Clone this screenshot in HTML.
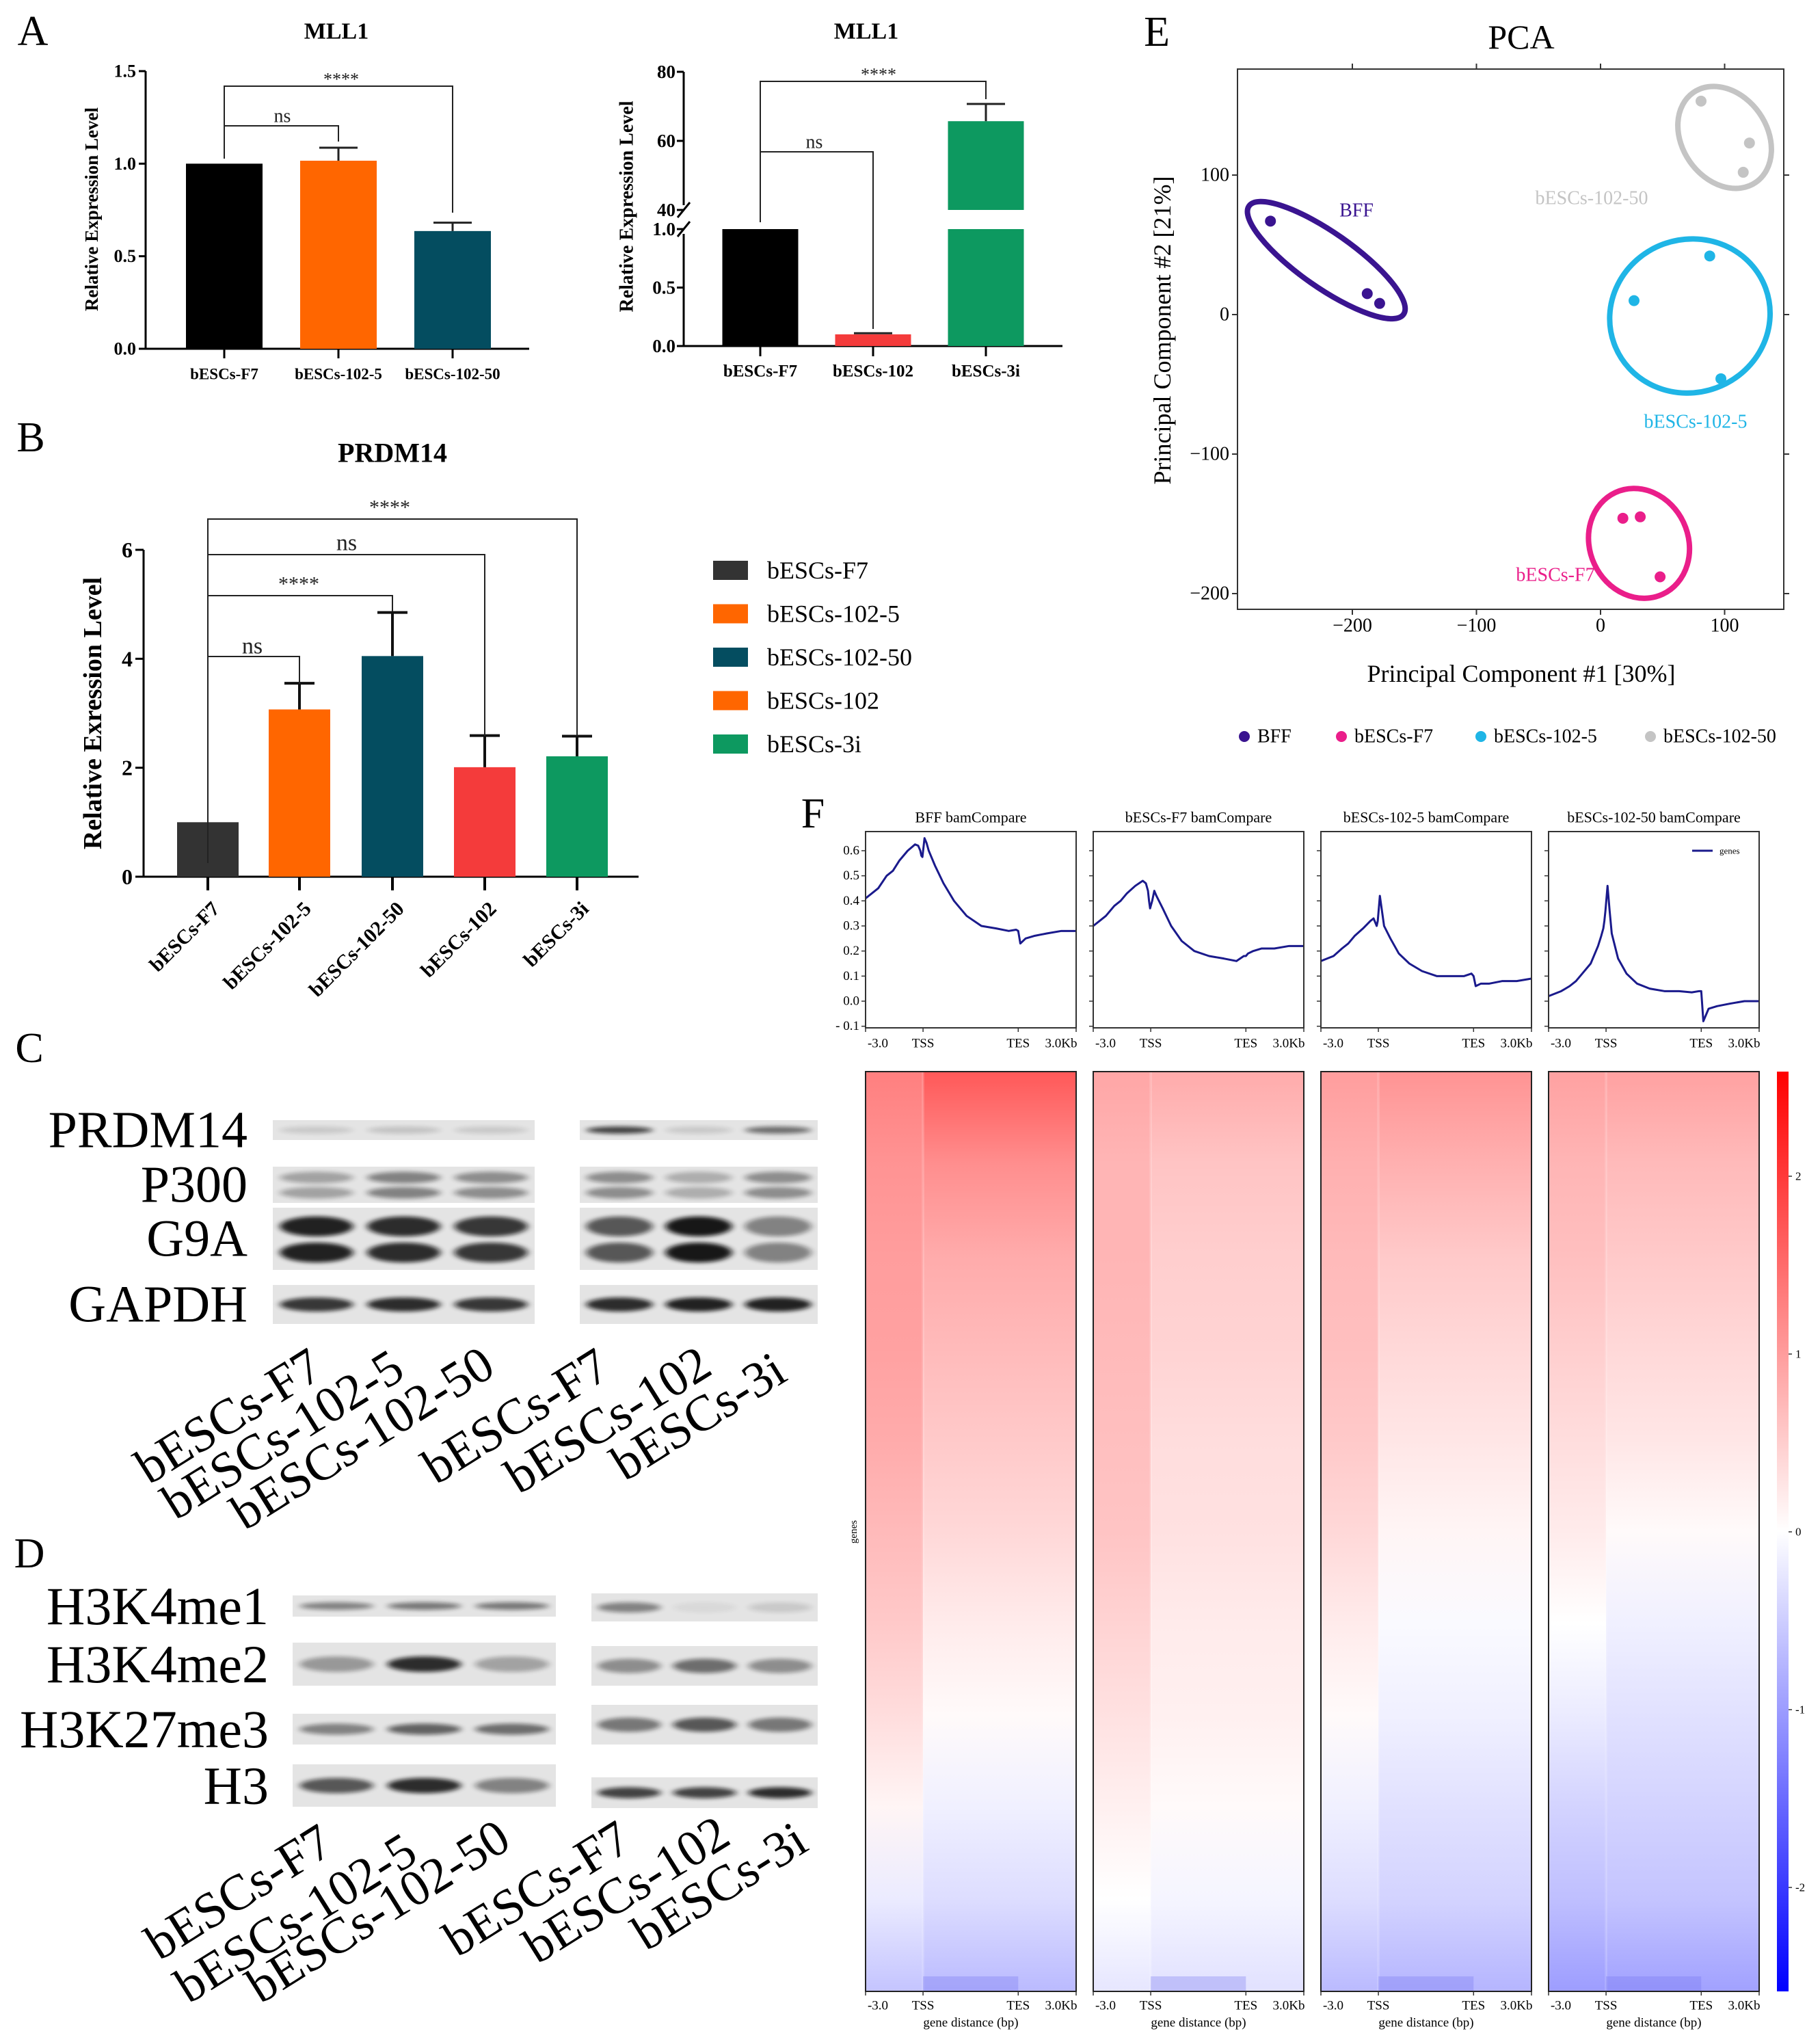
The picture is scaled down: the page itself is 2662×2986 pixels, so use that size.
<!DOCTYPE html>
<html><head><meta charset="utf-8"><style>
html,body{margin:0;padding:0;background:#fff;}
svg{display:block;font-family:"Liberation Serif",serif;}
</style></head><body>
<svg id="fig" xmlns="http://www.w3.org/2000/svg" width="2662" height="2986" viewBox="0 0 2662 2986">
<defs>
<filter id="blur" x="-20%" y="-100%" width="140%" height="300%"><feGaussianBlur stdDeviation="5 3"/></filter>
</defs>
<g id="root"></g>
</svg>
<script>
// ---------- DATA ----------
const a1Cats = ["bESCs-F7","bESCs-102-5","bESCs-102-50"];
const a1Vals = [1.0, 1.016, 0.636];
const a1Errs = [0, 0.07, 0.045];
const a1Ticks = [0, 0.5, 1.0, 1.5];
const a1TickLabels = ["0.0","0.5","1.0","1.5"];

const a2Cats = ["bESCs-F7","bESCs-102","bESCs-3i"];
const a2Vals = [1.0, 0.10, 65.7];
const a2Errs = [0, 0.01, 5.0];
const a2LowTicks = [0, 0.5, 1.0];
const a2LowLabels = ["0.0","0.5","1.0"];
const a2HighTicks = [40, 60, 80];
const a2HighLabels = ["40","60","80"];

const bCats = ["bESCs-F7","bESCs-102-5","bESCs-102-50","bESCs-102","bESCs-3i"];
const bVals = [1.0, 3.07, 4.05, 2.01, 2.21];
const bErrs = [0, 0.48, 0.8, 0.58, 0.37];
const bTicks = [0, 2, 4, 6];

const pcaGroups = ["BFF","bESCs-F7","bESCs-102-5","bESCs-102-50"];
const pcaX = [[-266,-188,-178],[18,32,48],[27,88,97],[81,120,115]];
const pcaY = [[67,15,8],[-146,-145,-188],[10,42,-46],[153,123,102]];
const pcaCx = [-221, 31, 72, 100];
const pcaCy = [39, -164, -1, 127];
const pcaXTicks = [-200,-100,0,100];
const pcaYTicks = [100,0,-100,-200];

const profTitles = ["BFF bamCompare","bESCs-F7 bamCompare","bESCs-102-5 bamCompare","bESCs-102-50 bamCompare"];
const profPos = [0,.03,.06,.1,.13,.16,.2,.235,.25,.26,.265,.27,.28,.29,.3,.33,.37,.42,.48,.55,.62,.68,.715,.725,.735,.76,.8,.86,.93,1];
const profVals = [
 [.41,.43,.45,.50,.52,.56,.60,.625,.62,.60,.58,.575,.65,.63,.60,.54,.47,.40,.34,.30,.29,.28,.285,.28,.23,.25,.26,.27,.28,.28],
 [.30,.32,.34,.38,.40,.43,.46,.48,.47,.44,.40,.37,.40,.44,.42,.37,.30,.24,.20,.18,.17,.16,.18,.18,.19,.20,.21,.21,.22,.22],
 [.16,.17,.18,.21,.23,.26,.29,.32,.33,.31,.30,.32,.42,.36,.30,.25,.19,.15,.12,.10,.10,.10,.11,.10,.06,.07,.07,.08,.08,.09],
 [.02,.03,.04,.06,.08,.11,.15,.22,.26,.29,.32,.36,.46,.36,.27,.17,.11,.07,.05,.04,.04,.035,.04,.04,-.08,-.03,-.02,-.01,0,0]
];
const profTicks = [-0.1,0,0.1,0.2,0.3,0.4,0.5,0.6];
const profTickLabels = ["- 0.1","0.0","0.1","0.2","0.3","0.4","0.5","0.6"];

const heatRows = [0,.1,.2,.3,.4,.5,.6,.7,.8,.9,1];
const heatUp = [
 [1.3,1.1,1.0,0.95,0.85,0.7,0.55,0.35,0.1,-0.2,-0.6],
 [0.9,0.75,0.75,0.7,0.65,0.6,0.45,0.3,0.15,0.0,-0.25],
 [1.0,0.8,0.7,0.65,0.55,0.4,0.2,0.05,-0.15,-0.35,-0.7],
 [0.95,0.75,0.65,0.5,0.35,0.2,0.0,-0.2,-0.45,-0.65,-1.0]
];
const heatDown = [
 [1.7,1.15,0.85,0.7,0.55,0.4,0.2,0.05,-0.15,-0.35,-0.7],
 [0.85,0.6,0.5,0.45,0.35,0.3,0.2,0.15,0.05,-0.1,-0.3],
 [1.1,0.8,0.55,0.4,0.25,0.1,-0.05,-0.15,-0.3,-0.45,-0.75],
 [0.95,0.7,0.55,0.4,0.25,0.05,-0.15,-0.3,-0.45,-0.6,-0.95]
];
const cbTicks = [2,1,0,-1,-2];

// ---------- HELPERS ----------
const NS="http://www.w3.org/2000/svg";
const root=document.getElementById('root');
function mk(tag,attrs,parent,text){const e=document.createElementNS(NS,tag);for(const k in attrs)e.setAttribute(k,attrs[k]);if(text!==undefined)e.textContent=text;(parent||root).appendChild(e);return e;}
function grp(name,parent){const g=mk('g',{},parent);return g;}
function line(p,x1,y1,x2,y2,w,c,name){const l=mk('line',{x1,y1,x2,y2,stroke:c||'#000','stroke-width':w||2},p);return l;}
function txt(p,x,y,s,size,opts,name){opts=opts||{};const a={x,y,'font-size':size,'text-anchor':opts.anchor||'middle','dominant-baseline':opts.base||'central',fill:opts.fill||'#000'};if(opts.bold)a['font-weight']='bold';if(opts.tr)a.transform=opts.tr;const t=mk('text',a,p,s);return t;}

[["A",48,46],["B",45,640],["C",43,1533],["D",43,2272],["E",1692,47],["F",1189,1190]].forEach(d=>{
 const t=txt(root,d[1],d[2],d[0],62,{});
 
});

function bracket(p,x1,yStart,x2,yEnd,yTop,label,lx,ly,size){
 const pl=mk('polyline',{points:`${x1},${yStart} ${x1},${yTop} ${x2},${yTop} ${x2},${yEnd}`,fill:'none',stroke:'#222','stroke-width':2},p);
 
 
 const t=txt(p,lx,ly,label,size,{fill:'#222'});
 
}

// ---------- A1 ----------
(function(){
 const g=grp('chart-a1-mll1');
 const x0=213,x1=774,yb=510,yt=104,vmax=1.5;
 const ys=v=>yb-(v/vmax)*(yb-yt);
 const centers=[328,495,662],bw=112;
 const colors=['#000000','#ff6600','#044d60'];
 txt(g,492,46,"MLL1",34,{bold:true},'chart-title');
 line(g,x0,yt,x0,yb,3,'#000','y-axis');
 line(g,x0,yb,x1,yb,3,'#000','x-axis');
 a1Ticks.forEach((v,i)=>{line(g,x0-10,ys(v),x0,ys(v),3,'#000','y-tick');txt(g,x0-14,ys(v),a1TickLabels[i],26,{bold:true,anchor:'end'},'y-tick-label');});
 a1Vals.forEach((v,i)=>{
  const r=mk('rect',{x:centers[i]-bw/2,y:ys(v),width:bw,height:yb-ys(v),fill:colors[i]},g);
  
  
  if(a1Errs[i]>0){line(g,centers[i],ys(v),centers[i],ys(v+a1Errs[i]),3,'#222','error-bar');line(g,centers[i]-28,ys(v+a1Errs[i]),centers[i]+28,ys(v+a1Errs[i]),3,'#222','error-cap');}
  line(g,centers[i],yb,centers[i],yb+14,3,'#000','x-tick');
  txt(g,centers[i],547,a1Cats[i],23,{bold:true},'x-tick-label');
 });
 txt(g,134,306,"Relative Expression Level",27,{bold:true,tr:'rotate(-90 134 306)'},'y-axis-title');
 bracket(g,centers[0],232,centers[1],207,184,"ns",413,170,28);
 bracket(g,centers[0],232,centers[2],311,126,"****",499,116,26);
})();

// ---------- A2 ----------
(function(){
 const g=grp('chart-a2-mll1');
 const x0=1000,x1=1554,yb=506;
 const low=v=>yb-(v/1.0)*(yb-335);
 const high=v=>307-((v-40)/40)*(307-105);
 const centers=[1112,1277,1442],bw=111;
 const colors=['#000000','#f43b3b','#0d9960'];
 txt(g,1267,46,"MLL1",34,{bold:true},'chart-title');
 line(g,x0,105,x0,300,3,'#000','y-axis-upper');
 line(g,x0,342,x0,yb,3,'#000','y-axis-lower');
 line(g,x0-9,318,x0+9,296,3,'#000','axis-break');
 line(g,x0-9,346,x0+9,324,3,'#000','axis-break');
 line(g,x0,yb,x1,yb,3,'#000','x-axis');
 a2LowTicks.forEach((v,i)=>{line(g,x0-10,low(v),x0,low(v),3,'#000','y-tick');txt(g,x0-12,low(v),a2LowLabels[i],27,{bold:true,anchor:'end'},'y-tick-label');});
 a2HighTicks.forEach((v,i)=>{line(g,x0-10,high(v),x0,high(v),3,'#000','y-tick');txt(g,x0-12,high(v),a2HighLabels[i],27,{bold:true,anchor:'end'},'y-tick-label');});
 a2Vals.forEach((v,i)=>{
  if(v<=1){
   const r=mk('rect',{x:centers[i]-bw/2,y:low(v),width:bw,height:yb-low(v),fill:colors[i]},g);
   
   
   if(a2Errs[i]>0)line(g,centers[i]-28,low(v+a2Errs[i]),centers[i]+28,low(v+a2Errs[i]),3,'#222','error-cap');
  } else {
   const r=mk('rect',{x:centers[i]-bw/2,y:low(1.0),width:bw,height:yb-low(1.0),fill:colors[i]},g);
   
   
   const r2=mk('rect',{x:centers[i]-bw/2,y:high(v),width:bw,height:307-high(v),fill:colors[i]},g);
   
   
   line(g,centers[i],high(v),centers[i],high(v+a2Errs[i]),3,'#222','error-bar');
   line(g,centers[i]-28,high(v+a2Errs[i]),centers[i]+28,high(v+a2Errs[i]),3,'#222','error-cap');
  }
  line(g,centers[i],yb,centers[i],yb+15,3,'#000','x-tick');
  txt(g,centers[i],543,a2Cats[i],25,{bold:true},'x-tick-label');
 });
 txt(g,917,302,"Relative Expression Level",28,{bold:true,tr:'rotate(-90 917 302)'},'y-axis-title');
 bracket(g,centers[0],325,centers[1],481,222,"ns",1191,208,28);
 bracket(g,centers[0],325,centers[2],145,119,"****",1285,109,26);
})();

// ---------- B ----------
(function(){
 const g=grp('chart-b-prdm14');
 const x0=210,x1=934,yb=1282,yt=804,vmax=6;
 const ys=v=>yb-(v/vmax)*(yb-yt);
 const centers=[304,438,574,709,844],bw=90;
 const colors=['#333333','#ff6600','#044d60','#f43b3b','#0d9960'];
 txt(g,574,662,"PRDM14",40,{bold:true},'chart-title');
 line(g,x0,yt,x0,yb,3,'#000','y-axis');
 line(g,x0,yb,x1,yb,3,'#000','x-axis');
 bTicks.forEach(v=>{line(g,x0-12,ys(v),x0,ys(v),3,'#000','y-tick');txt(g,x0-16,ys(v),String(v),32,{bold:true,anchor:'end'},'y-tick-label');});
 bVals.forEach((v,i)=>{
  const r=mk('rect',{x:centers[i]-bw/2,y:ys(v),width:bw,height:yb-ys(v),fill:colors[i]},g);
  
  
  if(bErrs[i]>0){line(g,centers[i],ys(v),centers[i],ys(v+bErrs[i]),4,'#111','error-bar');line(g,centers[i]-22,ys(v+bErrs[i]),centers[i]+22,ys(v+bErrs[i]),4,'#111','error-cap');}
  line(g,centers[i],yb,centers[i],yb+20,4,'#000','x-tick');
  txt(g,centers[i]+12,yb+42,bCats[i],30,{bold:true,anchor:'end',tr:`rotate(-45 ${centers[i]+12} ${yb+42})`},'x-tick-label');
 });
 txt(g,136,1043,"Relative Exression Level",38,{bold:true,tr:'rotate(-90 136 1043)'},'y-axis-title');
 bracket(g,centers[0],1262,centers[1],1000,960,"ns",369,945,34);
 bracket(g,centers[0],1262,centers[2],894,871,"****",437,854,30);
 bracket(g,centers[0],1262,centers[3],1076,811,"ns",507,794,34);
 bracket(g,centers[0],1262,centers[4],1076,759,"****",570,742,30);
 const lg=grp('legend-b');
 const legCols=['#333333','#ff6600','#044d60','#ff6600','#0d9960'];
 bCats.forEach((c,i)=>{
  const y=834+i*63.5;
  const s=mk('rect',{x:1043,y:y-14,width:51,height:28,fill:legCols[i]},lg);
  
  
  txt(lg,1122,y,c,36,{anchor:'start'},'legend-entry');
 });
})();

// ---------- E PCA ----------
(function(){
 const g=grp('chart-e-pca');
 const L=1810,R=2609,T=101,B=891;
 const xs=v=>2341+v*1.815, ys=v=>460-v*2.04;
 const cols=['#3a1490','#ea1e8a','#1fb5e6','#c4c4c4'];
 const ell=[[138,40,35],[82,72,65],[118,112,-20],[80,62,55]];
 txt(g,2225,54,"PCA",50,{},'chart-title');
 const box=mk('rect',{x:L,y:T,width:R-L,height:B-T,fill:'none',stroke:'#333','stroke-width':2},g);
 
 
 pcaXTicks.forEach(v=>{line(g,xs(v),B,xs(v),B+8,2,'#333','x-tick');line(g,xs(v),T,xs(v),T-8,2,'#333','x-tick-top');txt(g,xs(v),915,v<0?'\u2212'+(-v):String(v),28,{},'x-tick-label');});
 pcaYTicks.forEach(v=>{line(g,L,ys(v),L-8,ys(v),2,'#333','y-tick');line(g,R,ys(v),R+8,ys(v),2,'#333','y-tick-right');txt(g,1798,ys(v),v<0?'\u2212'+(-v):String(v),28,{anchor:'end'},'y-tick-label');});
 txt(g,2225,985,"Principal Component #1 [30%]",36,{},'x-axis-title');
 txt(g,1700,483,"Principal Component #2 [21%]",36,{tr:'rotate(-90 1700 483)'},'y-axis-title');
 pcaGroups.forEach((n,i)=>{
  const cx=xs(pcaCx[i]),cy=ys(pcaCy[i]);
  const e=mk('ellipse',{cx,cy,rx:ell[i][0],ry:ell[i][1],fill:'none',stroke:cols[i],'stroke-width':8,transform:`rotate(${ell[i][2]} ${cx} ${cy})`},g);
  
  
  pcaX[i].forEach((x,j)=>{
   const c=mk('circle',{cx:xs(x),cy:ys(pcaY[i][j]),r:8,fill:cols[i]},g);
   
   
  });
 });
 txt(g,1984,308,"BFF",28,{fill:cols[0]},'cluster-label');
 txt(g,2328,290,"bESCs-102-50",28,{fill:cols[3]},'cluster-label');
 txt(g,2480,617,"bESCs-102-5",28,{fill:cols[2]},'cluster-label');
 txt(g,2275,841,"bESCs-F7",28,{fill:cols[1]},'cluster-label');
 const lx=[1820,1962,2166,2414];
 pcaGroups.forEach((n,i)=>{
  const c=mk('circle',{cx:lx[i],cy:1077,r:8,fill:cols[i]},g);
  
  
  txt(g,lx[i]+19,1077,n,28,{anchor:'start'},'legend-entry');
 });
})();

// ---------- F ----------
function cmap(v){const t=Math.max(-1,Math.min(1,v/2.59));if(t>=0){const c=Math.round(255*(1-t));return `rgb(255,${c},${c})`;}const c=Math.round(255*(1+t));return `rgb(${c},${c},255)`;}
(function(){
 const g=grp('panel-f');
 const lefts=[1266,1599,1932,2265],W=308;
 const pT=1216,pB=1503;
 const py=v=>1464-v*366.7;
 const hT=1567,hB=2912;
 const defs=document.querySelector('defs');
 lefts.forEach((L,k)=>{
  const pg=grp('profile-'+k,g);
  txt(pg,L+W/2,1195,profTitles[k],22,{},'profile-title');
  profTicks.forEach((v,i)=>{line(pg,L-6,py(v),L,py(v),1.5,'#333','y-tick');if(k===0)txt(pg,L-9,py(v),profTickLabels[i],19,{anchor:'end'},'y-tick-label');});
  const pts=profPos.map((p,i)=>`${L+p*W},${py(profVals[k][i])}`).join(' ');
  const pl=mk('polyline',{points:pts,fill:'none',stroke:'#1a1a8c','stroke-width':3,'stroke-linejoin':'round'},pg);
  
  
  const fr=mk('rect',{x:L,y:pT,width:W,height:pB-pT,fill:'none',stroke:'#333','stroke-width':2},pg);
  
  
  const xt=[[0,'-3.0',18],[0.273,'TSS',0],[0.725,'TES',0],[1,'3.0Kb',-22]];
  xt.forEach(d=>{line(pg,L+d[0]*W,pB,L+d[0]*W,pB+6,1.5,'#333','x-tick');txt(pg,L+d[0]*W+d[2],1526,d[1],19,{},'x-tick-label');});
  if(k===3){line(pg,L+210,1244,L+240,1244,3,'#1a1a8c','legend-line');txt(pg,L+250,1244,'genes',13,{anchor:'start'},'legend-entry');}
  const hg=grp('heatmap-'+k,g);
  ['up','down'].forEach(s=>{
   const lgd=mk('linearGradient',{id:`hm${k}${s}`,x1:0,y1:0,x2:0,y2:1},defs);
   const arr=s==='up'?heatUp[k]:heatDown[k];
   heatRows.forEach((r,i)=>mk('stop',{offset:r,'stop-color':cmap(arr[i])},lgd));
  });
  const tss=L+0.273*W,tes=L+0.725*W;
  const r1=mk('rect',{x:L,y:hT,width:tss-L,height:hB-hT,fill:`url(#hm${k}up)`},hg);
  
  
  const r2=mk('rect',{x:tss,y:hT,width:L+W-tss,height:hB-hT,fill:`url(#hm${k}down)`},hg);
  
  
  const r3=mk('rect',{x:tss-2,y:hT,width:4,height:hB-hT,fill:'#fff',opacity:0.15},hg);
  
  
  const r4=mk('rect',{x:tss,y:hB-22,width:tes-tss,height:22,fill:'#7070f0',opacity:0.3},hg);
  
  
  const hf=mk('rect',{x:L,y:hT,width:W,height:hB-hT,fill:'none',stroke:'#222','stroke-width':2},hg);
  
  
  xt.forEach(d=>{line(hg,L+d[0]*W,hB,L+d[0]*W,hB+6,1.5,'#333','x-tick');txt(hg,L+d[0]*W+d[2],2933,d[1],19,{},'x-tick-label');});
  txt(hg,L+W/2,2958,'gene distance (bp)',19,{},'x-axis-title');
 });
 txt(g,1249,2240,'genes',15,{tr:'rotate(-90 1249 2240)'},'heatmap-y-title');
 const cg=mk('linearGradient',{id:'cbar',x1:0,y1:0,x2:0,y2:1},defs);
 [[0,2.59],[0.5,0],[1,-2.59]].forEach(d=>mk('stop',{offset:d[0],'stop-color':cmap(d[1])},cg));
 const cb=mk('rect',{x:2599,y:1567,width:17,height:1345,fill:'url(#cbar)'},g);
 
 
 cbTicks.forEach(v=>{const y=2240-v*260;line(g,2616,y,2621,y,1.5,'#333','colorbar-tick');txt(g,2626,y,v<0?'-'+(-v):String(v),17,{anchor:'start'},'colorbar-tick-label');});
})();

// ---------- C & D ----------
const cRows=["PRDM14","P300","G9A","GAPDH"];
const cRowY=[[1638,1667],[1706,1759],[1766,1857],[1879,1936]];
const cLeftBands=[[0.12,0.15,0.12],[0.3,0.45,0.4],[0.9,0.85,0.8],[0.8,0.85,0.8]];
const cRightBands=[[0.75,0.12,0.55],[0.4,0.25,0.4],[0.65,0.95,0.45],[0.85,0.9,0.9]];
const dRows=["H3K4me1","H3K4me2","H3K27me3","H3"];
const dRowYL=[[2333,2364],[2402,2465],[2506,2551],[2580,2642]];
const dRowYR=[[2330,2371],[2407,2465],[2493,2551],[2599,2644]];
const dLeftBands=[[0.45,0.5,0.5],[0.35,0.85,0.3],[0.45,0.6,0.55],[0.65,0.85,0.45]];
const dRightBands=[[0.45,0.05,0.12],[0.4,0.55,0.4],[0.5,0.65,0.5],[0.75,0.75,0.85]];
function blot(p,x1,x2,y1,y2,bands,name,dbl){
 const g=grp(name,p);
 const bg=mk('rect',{x:x1,y:y1,width:x2-x1,height:y2-y1,fill:'#e4e4e4'},g);
 
 
 const lw=(x2-x1)/3;
 bands.forEach((d,i)=>{
  const cx=x1+lw*(i+0.5),h=y2-y1;
  const ys=dbl?[y1+h*0.3,y1+h*0.72]:[y1+h*0.5];
  ys.forEach(yy=>{
   const e=mk('ellipse',{cx,cy:yy,rx:lw*0.42,ry:dbl?h*0.16:Math.max(5,h*0.18),fill:'#111',opacity:d,filter:'url(#blur)'},g);
   
   
  });
 });
}
(function(){
 const g=grp('panel-c');
 cRows.forEach((r,i)=>{
  const cy=(cRowY[i][0]+cRowY[i][1])/2;
  txt(g,362,cy,r,76,{anchor:'end'},'row-label');
  blot(g,399,782,cRowY[i][0],cRowY[i][1],cLeftBands[i],'blot-left-'+r,i===2||i===1);
  blot(g,848,1196,cRowY[i][0],cRowY[i][1],cRightBands[i],'blot-right-'+r,i===2||i===1);
 });
 const labs=[["bESCs-F7",218,2172],["bESCs-102-5",257,2224],["bESCs-102-50",358,2239],["bESCs-F7",638,2172],["bESCs-102",759,2186],["bESCs-3i",914,2167]];
 labs.forEach(d=>txt(g,d[1],d[2],d[0],74,{anchor:'start',base:'auto',tr:`rotate(-32 ${d[1]} ${d[2]})`},'lane-label'));
})();
(function(){
 const g=grp('panel-d');
 dRows.forEach((r,i)=>{
  const cy=(dRowYL[i][0]+dRowYL[i][1])/2;
  txt(g,393,cy,r,78,{anchor:'end'},'row-label');
  blot(g,428,813,dRowYL[i][0],dRowYL[i][1],dLeftBands[i],'blot-left-'+r,false);
  blot(g,865,1196,dRowYR[i][0],dRowYR[i][1],dRightBands[i],'blot-right-'+r,false);
 });
 const labs=[["bESCs-F7",233,2868],["bESCs-102-5",276,2931],["bESCs-102-50",381,2931],["bESCs-F7",669,2863],["bESCs-102",786,2873],["bESCs-3i",945,2854]];
 labs.forEach(d=>txt(g,d[1],d[2],d[0],74,{anchor:'start',base:'auto',tr:`rotate(-32 ${d[1]} ${d[2]})`},'lane-label'));
})();
</script>
</body></html>
